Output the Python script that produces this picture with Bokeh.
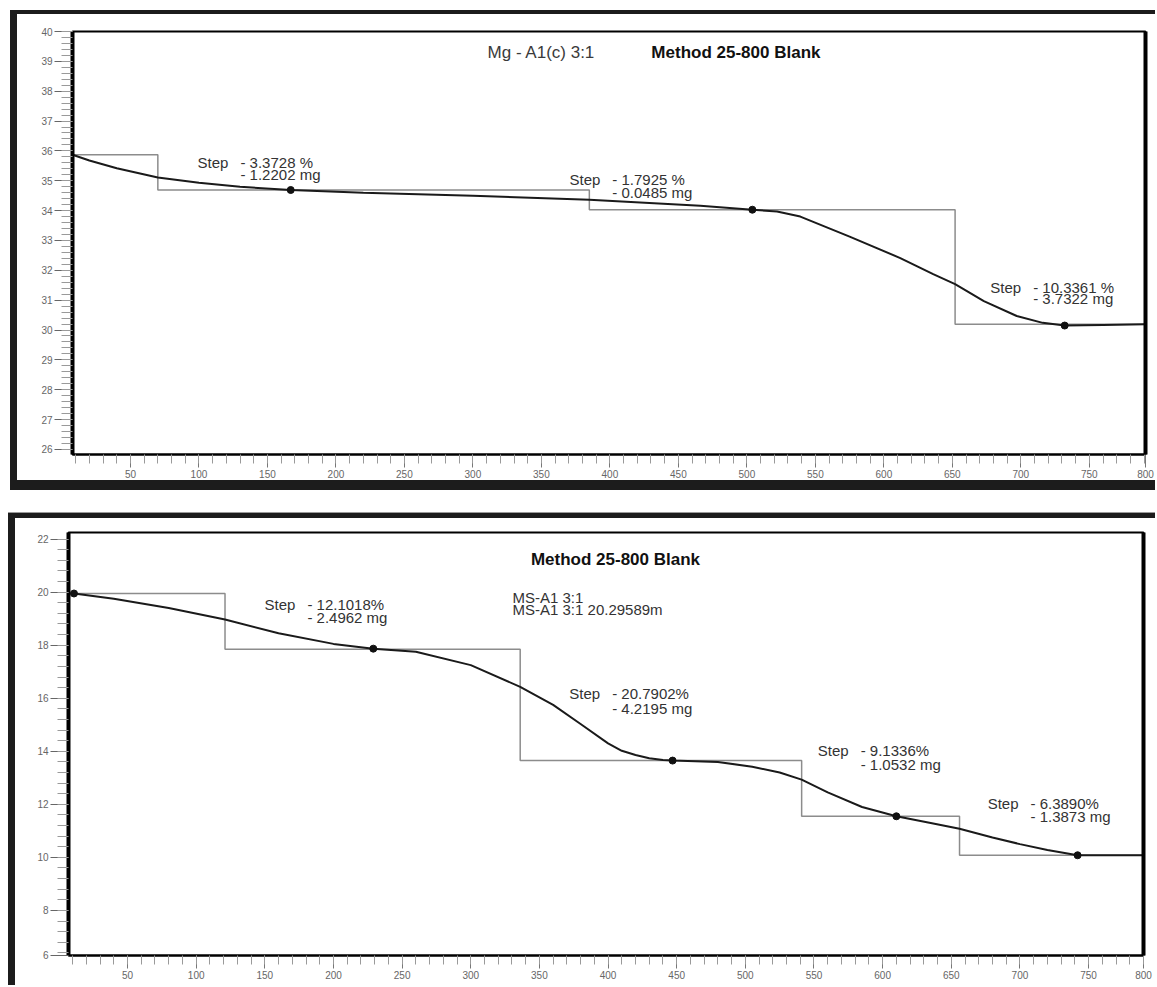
from bokeh.plotting import figure
from bokeh.models import Range1d, LinearAxis, FixedTicker, Div
from bokeh.layouts import column, row
from bokeh.embed import file_html
from bokeh.resources import INLINE
from bokeh.core.properties import value

FONT = "Liberation Sans"

# ---------------- top panel data ----------------
top_curve_x = [7.7, 20, 40, 70, 100, 130, 167, 220, 300, 385, 466, 504, 522, 539, 575, 612, 636, 652, 673, 697, 716, 732, 760, 791]
top_curve_y = [35.87, 35.68, 35.42, 35.11, 34.93, 34.80, 34.69, 34.60, 34.50, 34.36, 34.16, 34.03, 33.97, 33.80, 33.13, 32.41, 31.87, 31.54, 30.97, 30.47, 30.24, 30.15, 30.17, 30.19]
top_step_edges = [7.7, 70, 385, 652, 791]
top_step_levels = [35.87, 34.69, 34.03, 30.19]
top_dot_x = [167, 504, 732]
top_dot_y = [34.69, 34.03, 30.15]
top_x_range = (7.7, 791)
top_y_range = (25.83, 40.0)
top_x_ticks = [50, 100, 150, 200, 250, 300, 350, 400, 450, 500, 550, 600, 650, 700, 750, 791]
top_x_labels = {791: "800"}
top_y_ticks = [26, 27, 28, 29, 30, 31, 32, 33, 34, 35, 36, 37, 38, 39, 40]
top_step_pct = ["- 3.3728 %", "- 1.7925 %", "- 10.3361 %"]
top_step_mg = ["- 1.2202 mg", "- 0.0485 mg", "- 3.7322 mg"]
top_label_x = [130.3, 401.8, 709.0]
top_label_y1 = [35.61, 35.03, 31.43]
top_label_y2 = [35.21, 34.60, 31.07]
top_sample = "Mg - A1(c) 3:1"
top_method = "Method 25-800 Blank"
top_sample_pos = (350.0, 39.3)
top_method_pos = (492.0, 39.3)

# ---------------- bottom panel data ----------------
bot_curve_x = [11, 40, 80, 121, 160, 200, 229, 260, 300, 336, 360, 380, 400, 410, 420, 430, 440, 447, 480, 505, 525, 541, 560, 585, 610, 635, 656, 680, 700, 720, 742, 790]
bot_curve_y = [19.95, 19.75, 19.40, 18.97, 18.45, 18.05, 17.87, 17.75, 17.25, 16.43, 15.75, 15.03, 14.30, 14.02, 13.86, 13.74, 13.67, 13.65, 13.60, 13.42, 13.20, 12.93, 12.45, 11.90, 11.55, 11.30, 11.08, 10.75, 10.50, 10.28, 10.08, 10.08]
bot_step_edges = [7.0, 121, 336, 541, 656, 790]
bot_step_levels = [19.95, 17.85, 13.65, 11.55, 10.08]
bot_dot_x = [11, 229, 447, 610, 742]
bot_dot_y = [19.95, 17.87, 13.65, 11.55, 10.08]
bot_x_range = (7.0, 790)
bot_y_range = (6.3, 22.25)
bot_x_ticks = [50, 100, 150, 200, 250, 300, 350, 400, 450, 500, 550, 600, 650, 700, 750, 790]
bot_x_labels = {790: "800"}
bot_y_ticks = [6.31, 8, 10, 12, 14, 16, 18, 20, 22]
bot_y_labels = {6.31: "6"}
bot_step_pct = ["- 12.1018%", "- 20.7902%", "- 9.1336%", "- 6.3890%"]
bot_step_mg = ["- 2.4962 mg", "- 4.2195 mg", "- 1.0532 mg", "- 1.3873 mg"]
bot_label_x = [181.0, 403.0, 584.0, 707.7]
bot_label_y1 = [19.55, 16.19, 14.04, 12.04]
bot_label_y2 = [19.06, 15.62, 13.51, 11.55]
bot_method = "Method 25-800 Blank"
bot_method_pos = (405.4, 21.25)
bot_sample_lines = ["MS-A1 3:1", "MS-A1 3:1 20.29589m"]
bot_sample_x = [330.4, 330.4]
bot_sample_y = [19.81, 19.36]

minor_x = list(range(10, 800, 10))
top_minor_y = [26 + 0.2 * i for i in range(0, 71)]
bot_minor_y = [6.4 + 0.4 * i for i in range(0, 40)]

BAR = "#1c1c1c"


def bar(w, h, color=BAR):
    return Div(text="", width=w, height=h, margin=(0, 0, 0, 0),
               styles={"background-color": color})


def make_panel(width, height, xr, yr, borders):
    p = figure(width=width, height=height, x_range=Range1d(*xr), y_range=Range1d(*yr),
               output_backend="svg", toolbar_location=None,
               min_border_left=borders[0], min_border_right=borders[1],
               min_border_top=borders[2], min_border_bottom=borders[3],
               x_axis_location=None, y_axis_location=None, margin=(0, 0, 0, 0))
    p.xgrid.visible = False
    p.ygrid.visible = False
    p.outline_line_color = "black"
    p.outline_line_width = 2
    p.background_fill_color = "white"
    p.border_fill_color = "white"
    return p


def style_axes(p, xt, xminor, xlabels, yt, yminor, ylabels):
    xa = LinearAxis(ticker=FixedTicker(ticks=xt, minor_ticks=xminor))
    xa.major_label_overrides = xlabels
    xa.axis_line_color = "black"
    xa.axis_line_width = 2
    xa.major_tick_out = 13
    xa.major_tick_in = 0
    xa.minor_tick_out = 9
    xa.minor_tick_in = 0
    xa.major_tick_line_color = "#777777"
    xa.minor_tick_line_color = "#9a9a9a"
    xa.major_label_text_font = FONT
    xa.major_label_text_font_size = "10px"
    xa.major_label_text_color = "#666666"
    xa.major_label_standoff = 2
    p.add_layout(xa, "below")

    ya = LinearAxis(ticker=FixedTicker(ticks=yt, minor_ticks=yminor))
    ya.major_label_overrides = ylabels
    ya.axis_line_color = "black"
    ya.axis_line_width = 4
    ya.major_tick_out = 18
    ya.major_tick_in = 0
    ya.minor_tick_out = 11
    ya.minor_tick_in = 0
    ya.major_tick_line_color = "#666666"
    ya.minor_tick_line_color = "#9a9a9a"
    ya.major_label_text_font = FONT
    ya.major_label_text_font_size = "10px"
    ya.major_label_text_color = "#666666"
    ya.major_label_standoff = 2
    p.add_layout(ya, "left")

    ra = LinearAxis(ticker=FixedTicker(ticks=[]))
    ra.axis_line_color = "black"
    ra.axis_line_width = 4
    ra.major_tick_out = 0
    ra.major_tick_in = 0
    ra.minor_tick_out = 0
    ra.minor_tick_in = 0
    ra.major_label_standoff = 0
    ra.major_label_text_font_size = "0px"
    p.add_layout(ra, "right")


def draw_steps(p, edges, levels, cx, cy, dx, dy, lx, ly1, ly2, pct, mg):
    p.step(edges, levels + [levels[-1]], mode="after", line_color="#8c8c8c", line_width=1.5)
    p.line(cx, cy, line_color="#1a1a1a", line_width=2)
    p.scatter(dx, dy, size=7, color="#111111")
    p.text(x=lx, y=ly1, text=["Step"] * len(lx), text_align="right", text_baseline="middle",
           x_offset=-12, text_font=value(FONT), text_font_size="15px", text_color="#333333")
    p.text(x=lx, y=ly1, text=pct, text_align="left", text_baseline="middle",
           text_font=value(FONT), text_font_size="15px", text_color="#333333")
    p.text(x=lx, y=ly2, text=mg, text_align="left", text_baseline="middle",
           text_font=value(FONT), text_font_size="15px", text_color="#333333")


# ---------------- top figure ----------------
p1 = make_panel(1138, 466, top_x_range, top_y_range, (55, 10, 17, 26))
style_axes(p1, top_x_ticks, minor_x, top_x_labels, top_y_ticks, top_minor_y, {})
draw_steps(p1, top_step_edges, top_step_levels, top_curve_x, top_curve_y, top_dot_x, top_dot_y,
           top_label_x, top_label_y1, top_label_y2, top_step_pct, top_step_mg)
p1.text(x=[top_sample_pos[0]], y=[top_sample_pos[1]], text=[top_sample], text_align="center",
        text_baseline="middle", text_font=value(FONT), text_font_size="17px", text_color="#3a3a3a")
p1.text(x=[top_method_pos[0]], y=[top_method_pos[1]], text=[top_method], text_align="center",
        text_baseline="middle", text_font=value(FONT), text_font_size="17px",
        text_font_style="bold", text_color="#111111")

# ---------------- bottom figure ----------------
p2 = make_panel(1140, 467, bot_x_range, bot_y_range, (53, 12, 14, 30))
style_axes(p2, bot_x_ticks, minor_x, bot_x_labels, bot_y_ticks, bot_minor_y, bot_y_labels)
draw_steps(p2, bot_step_edges, bot_step_levels, bot_curve_x, bot_curve_y, bot_dot_x, bot_dot_y,
           bot_label_x, bot_label_y1, bot_label_y2, bot_step_pct, bot_step_mg)
p2.text(x=[bot_method_pos[0]], y=[bot_method_pos[1]], text=[bot_method], text_align="center",
        text_baseline="middle", text_font=value(FONT), text_font_size="17px",
        text_font_style="bold", text_color="#111111")
p2.text(x=bot_sample_x, y=bot_sample_y, text=bot_sample_lines, text_align="left",
        text_baseline="middle", text_font=value(FONT), text_font_size="15px", text_color="#333333")

top_block = column(bar(1145, 4), row(bar(7, 466), p1, spacing=0), bar(1145, 10),
                   spacing=0, margin=(10, 0, 0, 10))
bot_block = column(bar(1147, 1, "#9a9a9a"), bar(1147, 5), row(bar(7, 467), p2, spacing=0),
                   spacing=0, margin=(22, 0, 0, 8))
layout = column(top_block, bot_block, spacing=0)
open("out.html", "w").write(file_html(layout, INLINE))
